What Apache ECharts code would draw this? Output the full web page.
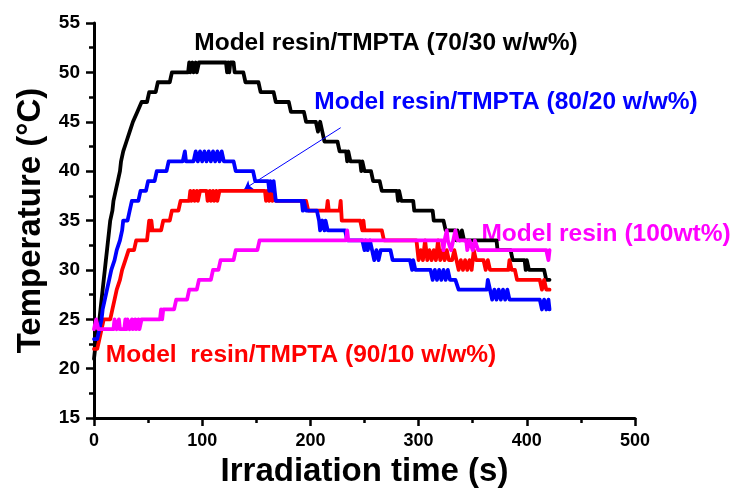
<!DOCTYPE html>
<html><head><meta charset="utf-8">
<script src="https://cdn.jsdelivr.net/npm/echarts@6/dist/echarts.min.js"></script>
<style>html,body{margin:0;padding:0;background:#fff}#c{width:730px;height:493px}</style>
</head><body><div id="c"></div>
<script>
// [time (s), temperature (°C)]
const resin7030 = [[0,21],[1,22],[2,23],[4,24],[5,25],[6,26],[7,27],[8,28],[9,29],[10,30],[11,31],[12,32],[14,34],[15,35],[17,36],[18,37],[20,38],[22,39],[24,40],[25,41],[27,42],[30,43],[33,44],[36,45],[40,46],[44,47],[49,47],[51,48],[57,48],[59,49],[70,49],[72,50],[87,50],[88,51],[89,50],[91,51],[92,50],[94,51],[95,50],[97,51],[122,51],[123,50],[124,51],[125,50],[126,51],[129,51],[130,50],[138,50],[140,49],[152,49],[154,48],[166,48],[168,47],[180,47],[182,46],[194,46],[196,45],[205,45],[207,44],[209,45],[211,44],[213,43],[225,43],[227,42],[233,42],[234,41],[235,42],[237,41],[246,41],[247,40],[248,41],[250,40],[256,40],[258,39],[264,39],[266,38],[280,38],[281,37],[282,38],[284,37],[295,37],[296,36],[313,36],[314,35],[323,35],[325,34],[334,34],[335,33],[336,34],[338,33],[340,34],[342,33],[372,33],[373,32],[385,32],[387,31],[398,31],[399,30],[400,31],[402,30],[416,30],[418,29],[421,29]];
const resin9010 = [[0,22],[3,22],[5,23],[7,24],[9,25],[15,25],[17,26],[19,27],[21,28],[24,29],[26,30],[29,31],[32,32],[37,32],[39,33],[49,33],[50,34],[51,35],[52,34],[53,35],[54,34],[62,34],[64,35],[70,35],[72,36],[78,36],[80,37],[88,37],[89,38],[90,37],[92,38],[93,37],[95,38],[96,37],[98,38],[104,38],[105,37],[107,38],[108,37],[110,38],[111,37],[113,38],[114,37],[116,38],[158,38],[159,37],[160,38],[162,37],[163,38],[165,37],[166,38],[168,37],[196,37],[198,36],[215,36],[216,37],[217,36],[227,36],[228,37],[229,35],[246,35],[248,34],[249,35],[250,34],[266,34],[268,33],[298,33],[300,31],[302,32],[304,31],[306,33],[308,31],[310,32],[312,31],[314,32],[316,31],[318,33],[320,31],[322,32],[324,31],[326,32],[328,31],[331,31],[333,32],[335,31],[337,30],[339,31],[341,30],[343,31],[345,30],[347,31],[349,30],[351,32],[353,31],[360,31],[362,30],[364,31],[366,30],[383,30],[384,31],[386,30],[389,30],[391,29],[412,29],[414,28],[416,29],[418,28],[421,28]];
const resin8020 = [[0,23],[3,23],[5,24],[7,25],[8,26],[10,27],[12,28],[14,29],[16,30],[19,31],[21,32],[24,33],[26,34],[27,35],[31,35],[33,36],[35,37],[41,37],[43,38],[48,38],[50,39],[56,39],[58,40],[67,40],[69,41],[82,41],[84,42],[85,41],[92,41],[94,42],[96,41],[98,42],[100,41],[102,42],[104,41],[106,42],[108,41],[110,42],[112,41],[114,42],[116,41],[118,42],[120,41],[129,41],[131,40],[147,40],[149,39],[161,39],[162,38],[163,39],[165,38],[166,39],[168,37],[192,37],[193,36],[194,37],[196,36],[206,36],[208,35],[209,34],[211,35],[213,34],[214,35],[216,34],[232,34],[234,33],[248,33],[250,32],[251,33],[253,32],[255,33],[257,32],[259,31],[261,32],[263,31],[265,32],[274,32],[276,31],[292,31],[294,30],[295,31],[297,30],[311,30],[313,29],[315,30],[317,29],[319,30],[321,29],[323,30],[325,29],[327,30],[329,29],[334,29],[337,28],[363,28],[364,29],[366,28],[368,27],[370,28],[372,27],[374,28],[376,27],[378,28],[380,27],[382,28],[384,27],[412,27],[414,26],[416,27],[418,26],[420,27],[421,26]];
const resin100 = [[0,24],[2,25],[4,24],[18,24],[19,25],[21,24],[23,25],[24,24],[28,24],[29,25],[30,24],[31,25],[33,24],[35,25],[36,24],[38,25],[39,24],[41,25],[42,24],[44,25],[61,25],[62,26],[63,25],[64,26],[74,26],[76,27],[86,27],[88,28],[95,28],[97,29],[108,29],[110,30],[115,30],[117,31],[129,31],[131,32],[151,32],[153,33],[233,33],[234,34],[235,33],[322,33],[323,32],[324,33],[326,34],[327,33],[330,32],[332,33],[334,34],[336,33],[344,33],[345,32],[347,33],[350,32],[352,33],[355,32],[418,32],[420,31],[421,32]];

const seriesNames = ['Model resin/TMPTA (70/30 w/w%)','Model  resin/TMPTA (90/10 w/w%)','Model resin/TMPTA (80/20 w/w%)','Model resin (100wt%)'];
const seriesColors = ['#000000','#ff0000','#0000ff','#ff00ff'];
const arrowFrom = [228, 44.4];
const arrowTo = [139, 38.2];

const FONT = '"Liberation Sans", Arial, sans-serif';
const chart = echarts.init(document.getElementById('c'), null, {renderer:'canvas'});
const dataSets = [resin7030, resin9010, resin8020, resin100];

const series = dataSets.map((d,i)=>({
  name: seriesNames[i], type:'line', data:d, showSymbol:false, symbol:'none',
  lineStyle:{color:seriesColors[i], width:3.8, join:'round', cap:'round'}, itemStyle:{color:seriesColors[i]},
  animation:false
}));
series[2].markLine = {
  silent:true, animation:false, symbol:['none','arrow'], symbolSize:8,
  lineStyle:{color:'#0000ff', width:1, type:'solid'}, label:{show:false},
  data:[[{coord:arrowFrom},{coord:arrowTo}]]
};

const axisCommon = {
  axisLine:{show:true, onZero:false, lineStyle:{color:'#000', width:3}},
  axisTick:{show:true, inside:false, length:8, lineStyle:{color:'#000', width:2.5}},
  minorTick:{show:true, splitNumber:2, length:5, lineStyle:{color:'#000', width:2.5}},
  splitLine:{show:false},
  nameLocation:'middle',
  nameTextStyle:{fontFamily:FONT, fontWeight:'bold', fontSize:33, color:'#000'}
};

chart.setOption({
  animation:false,
  backgroundColor:'#fff',
  grid:{left:94, right:95, top:23, bottom:73, containLabel:false},
  xAxis: Object.assign({}, axisCommon, {
    type:'value', min:0, max:500, interval:100,
    name:'Irradiation time (s)', nameGap:36,
    axisLabel:{fontFamily:FONT, fontWeight:'bold', fontSize:18, color:'#000', margin:14}
  }),
  yAxis: Object.assign({}, axisCommon, {
    type:'value', min:15, max:55, interval:5,
    name:'Temperature (°C)', nameGap:47,
    axisLabel:{fontFamily:FONT, fontWeight:'bold', fontSize:19, color:'#000', margin:14}
  }),
  series: series,
  graphic:[
    {type:'text', x:386, y:43, style:{text:seriesNames[0], fill:'#000', font:'bold 24.5px '+FONT, textAlign:'center', textVerticalAlign:'middle'}},
    {type:'text', x:506, y:102, style:{text:seriesNames[2], fill:'#0000ff', font:'bold 24.5px '+FONT, textAlign:'center', textVerticalAlign:'middle'}},
    {type:'text', x:606, y:234, style:{text:seriesNames[3], fill:'#ff00ff', font:'bold 24.5px '+FONT, textAlign:'center', textVerticalAlign:'middle'}},
    {type:'text', x:301, y:355, style:{text:seriesNames[1], fill:'#ff0000', font:'bold 24.5px '+FONT, textAlign:'center', textVerticalAlign:'middle'}}
  ]
});
</script></body></html>
